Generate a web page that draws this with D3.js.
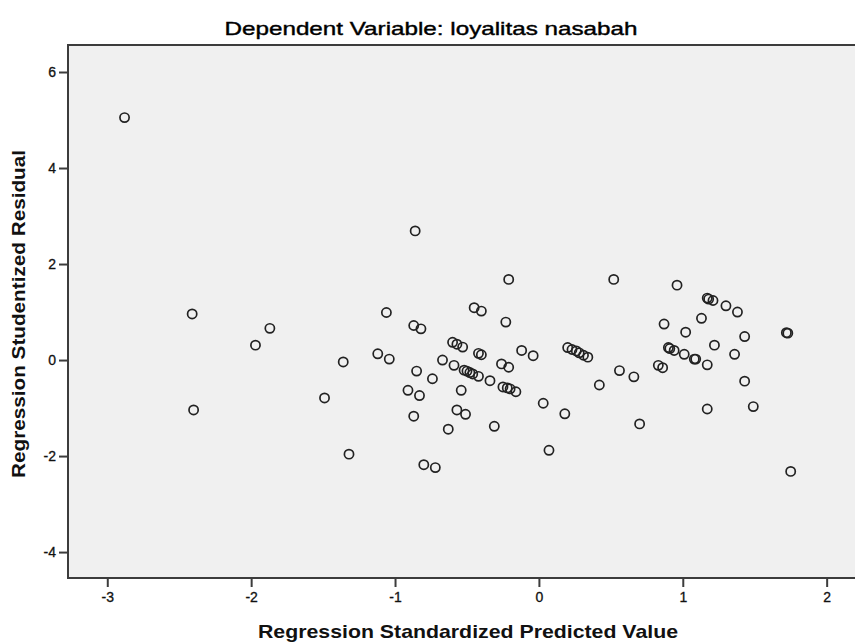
<!DOCTYPE html>
<html>
<head>
<meta charset="utf-8">
<script src="https://cdn.jsdelivr.net/npm/d3@7"></script>
<style>
  body { margin: 0; background: #fff; }
  svg { display: block; }
</style>
</head>
<body>
<svg width="855" height="643"></svg>
<script>
// standardized predicted value (x) and studentized residual (y)
const predicted = [
  -2.88, -2.41, -2.40, -1.97, -1.87, -1.49, -1.36, -1.32, -1.12, -1.06,
  -1.04, -0.91, -0.87, -0.87, -0.86, -0.82, -0.85, -0.83, -0.80, -0.74,
  -0.72, -0.67, -0.63, -0.59, -0.60, -0.57, -0.53, -0.57, -0.54, -0.51,
  -0.52, -0.50, -0.48, -0.46, -0.42, -0.45, -0.40, -0.42, -0.40, -0.34,
  -0.31, -0.26, -0.21, -0.25, -0.22, -0.20, -0.16, -0.23, -0.21, -0.12,
  -0.04, 0.03, 0.07, 0.18, 0.20, 0.23, 0.26, 0.28, 0.31, 0.34,
  0.42, 0.52, 0.56, 0.66, 0.70, 0.83, 0.86, 0.87, 0.90, 0.91,
  0.94, 0.96, 1.01, 1.02, 1.08, 1.09, 1.13, 1.17, 1.18, 1.21,
  1.17, 1.17, 1.22, 1.30, 1.36, 1.38, 1.43, 1.43, 1.49, 1.72,
  1.73, 1.75
]
const residual = [
  5.05, 0.96, -1.04, 0.31, 0.66, -0.79, -0.04, -1.96, 0.13, 0.99,
  0.02, -0.63, 0.72, -1.17, 2.69, 0.65, -0.23, -0.74, -2.18, -0.39,
  -2.24, 0.00, -1.44, -0.11, 0.37, 0.33, 0.27, -1.04, -0.63, -1.13,
  -0.21, -0.23, -0.26, -0.29, -0.34, 1.09, 1.02, 0.14, 0.11, -0.43,
  -1.38, -0.08, -0.15, -0.56, -0.58, -0.60, -0.66, 0.79, 1.68, 0.20,
  0.09, -0.90, -1.88, -1.12, 0.26, 0.22, 0.19, 0.15, 0.10, 0.06,
  -0.52, 1.68, -0.22, -0.35, -1.33, -0.11, -0.16, 0.75, 0.26, 0.24,
  0.20, 1.56, 0.12, 0.58, 0.02, 0.02, 0.87, 1.29, 1.27, 1.24,
  -0.10, -1.02, 0.31, 1.13, 0.12, 1.00, 0.49, -0.44, -0.97, 0.57,
  0.56, -2.32
]
const xTicks = [-3, -2, -1, 0, 1, 2]
const yTicks = [-4, -2, 0, 2, 4, 6]

const points = predicted.map((p, i) => ({ x: p, y: residual[i] }))

let svg = d3.select("svg")
const font = "'Liberation Sans', Arial, sans-serif"

const plotLeft = 68, plotTop = 45, plotBottom = 578, plotRight = 855

let x = d3.scaleLinear().domain([-3.273, 2.197]).range([plotLeft, plotRight])
let y = d3.scaleLinear().domain([-4.54, 6.5625]).range([plotBottom, plotTop])

// plot frame
svg.append("rect")
  .attr("x", plotLeft)
  .attr("y", plotTop)
  .attr("width", plotRight - plotLeft + 20)
  .attr("height", plotBottom - plotTop)
  .attr("fill", "#f0f0f0")
  .attr("stroke", "#3c3c3c")
  .attr("stroke-width", 2)

let xAxis = svg.append("g")
  .attr("transform", "translate(0," + (plotBottom + 1) + ")")
  .call(d3.axisBottom(x).tickValues(xTicks).tickFormat(d => String(d))
    .tickSize(8).tickSizeOuter(0).tickPadding(5))
xAxis.select(".domain").remove()

let yAxis = svg.append("g")
  .attr("transform", "translate(" + (plotLeft - 1) + ",0)")
  .call(d3.axisLeft(y).tickValues(yTicks).tickFormat(d => String(d))
    .tickSize(8).tickSizeOuter(0).tickPadding(3))
yAxis.select(".domain").remove()

svg.selectAll(".tick line").attr("stroke", "#3c3c3c").attr("stroke-width", 2)
svg.selectAll(".tick text")
  .attr("font-family", font)
  .attr("font-size", "14px")
  .attr("fill", "#111")
  .attr("stroke", "#111")
  .attr("stroke-width", 0.3)

// points
svg.append("g")
  .selectAll("circle")
  .data(points)
  .join("circle")
  .attr("cx", d => x(d.x))
  .attr("cy", d => y(d.y))
  .attr("r", 4.6)
  .attr("fill", "none")
  .attr("stroke", "#222")
  .attr("stroke-width", 1.7)

// titles
svg.append("text")
  .attr("x", 431)
  .attr("y", 35)
  .attr("text-anchor", "middle")
  .attr("font-family", font)
  .attr("font-size", "19px")
  .attr("fill", "#000")
  .attr("stroke", "#000")
  .attr("stroke-width", 0.4)
  .attr("textLength", 413)
  .attr("lengthAdjust", "spacingAndGlyphs")
  .text("Dependent Variable: loyalitas nasabah")

svg.append("text")
  .attr("x", 468)
  .attr("y", 638)
  .attr("text-anchor", "middle")
  .attr("font-family", font)
  .attr("font-size", "19px")
  .attr("font-weight", "bold")
  .attr("fill", "#111")
  .attr("textLength", 420)
  .attr("lengthAdjust", "spacingAndGlyphs")
  .text("Regression Standardized Predicted Value")

svg.append("text")
  .attr("transform", "translate(25,314) rotate(-90)")
  .attr("text-anchor", "middle")
  .attr("font-family", font)
  .attr("font-size", "19px")
  .attr("font-weight", "bold")
  .attr("fill", "#111")
  .attr("textLength", 328)
  .attr("lengthAdjust", "spacingAndGlyphs")
  .text("Regression Studentized Residual")
</script>
</body>
</html>
